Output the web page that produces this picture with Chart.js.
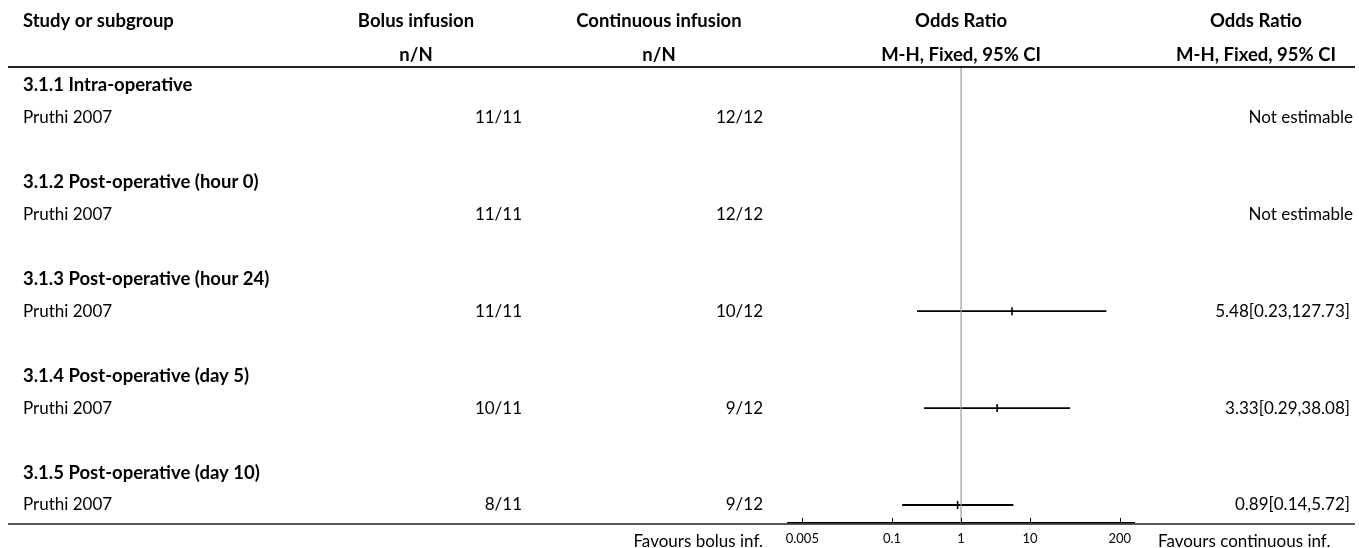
<!DOCTYPE html>
<html>
<head>
<meta charset="utf-8">
<script src="https://cdn.jsdelivr.net/npm/chart.js@4/dist/chart.umd.min.js"></script>
<style>
  html, body { margin: 0; padding: 0; background: #fff; }
  #wrap { position: relative; width: 1359px; height: 548px; }
</style>
</head>
<body>
<div id="wrap"><canvas id="forest" width="1359" height="548"></canvas></div>
<script>
// forest plot data
const groups = ['3.1.1 Intra-operative', '3.1.2 Post-operative (hour 0)', '3.1.3 Post-operative (hour 24)', '3.1.4 Post-operative (day 5)', '3.1.5 Post-operative (day 10)'];
const studies = ['Pruthi 2007', 'Pruthi 2007', 'Pruthi 2007', 'Pruthi 2007', 'Pruthi 2007'];
const bolusEvents = ['11/11', '11/11', '11/11', '10/11', '8/11'];
const contEvents = ['12/12', '12/12', '10/12', '9/12', '9/12'];
const orEst = [null, null, 5.48, 3.33, 0.89];
const orLow = [null, null, 0.23, 0.29, 0.14];
const orHigh = [null, null, 127.73, 38.08, 5.72];
const xTicks = [0.005, 0.1, 1, 10, 200];
const favourLeft = 'Favours bolus inf.';
const favourRight = 'Favours continuous inf.';

const FONT = 'Lato, "Open Sans", sans-serif';
const BOLD = 'bold 18.5px ' + FONT;
const NORM = '17px ' + FONT;
const ROWS = 14;

// row index for each group header and its study line
const groupRow = groups.map((g, i) => i * 3);
const studyRow = groups.map((g, i) => i * 3 + 1);

const ciSets = [];
const estPts = [];
orEst.forEach((v, i) => {
  if (v == null) return;
  ciSets.push({
    type: 'line',
    data: [{ x: orLow[i], y: studyRow[i] }, { x: orHigh[i], y: studyRow[i] }],
    borderColor: '#000',
    borderWidth: 1.8,
    pointRadius: 0
  });
  estPts.push({ x: v, y: studyRow[i] });
});

const yMin = -0.557, yMax = ROWS - 1 + 0.557;

const tablePlugin = {
  id: 'tableText',
  afterDatasetsDraw(chart) {
    const ctx = chart.ctx;
    const xs = chart.scales.x;
    const ys = chart.scales.y;
    const ca = chart.chartArea;
    ctx.save();
    ctx.fillStyle = '#000';
    ctx.textBaseline = 'middle';

    // header
    const h1 = ca.top - 46, h2 = ca.top - 12;
    ctx.font = BOLD;
    ctx.textAlign = 'left';
    ctx.fillText('Study or subgroup', 23, h1);
    ctx.textAlign = 'center';
    ctx.fillText('Bolus infusion', 416, h1);
    ctx.fillText('n/N', 416, h2);
    ctx.fillText('Continuous infusion', 659, h1);
    ctx.fillText('n/N', 659, h2);
    ctx.fillText('Odds Ratio', xs.getPixelForValue(1), h1);
    ctx.fillText('M-H, Fixed, 95% CI', xs.getPixelForValue(1), h2);
    ctx.fillText('Odds Ratio', 1256, h1);
    ctx.fillText('M-H, Fixed, 95% CI', 1256, h2);

    // lines
    ctx.strokeStyle = '#222';
    ctx.lineWidth = 2;
    ctx.beginPath();
    ctx.moveTo(8, ca.top); ctx.lineTo(1355, ca.top);
    ctx.stroke();
    ctx.lineWidth = 1.5;
    ctx.beginPath();
    ctx.moveTo(8, ca.bottom + 1); ctx.lineTo(1355, ca.bottom + 1);
    ctx.stroke();

    // axis ticks pointing up
    ctx.strokeStyle = '#000';
    ctx.lineWidth = 1;
    xTicks.forEach(t => {
      const px = Math.round(xs.getPixelForValue(t)) + 0.5;
      ctx.beginPath();
      ctx.moveTo(px, ca.bottom);
      ctx.lineTo(px, ca.bottom - 5);
      ctx.stroke();
    });

    // rows
    groups.forEach((g, i) => {
      const gy = ys.getPixelForValue(groupRow[i]);
      const sy = ys.getPixelForValue(studyRow[i]);
      ctx.font = BOLD;
      ctx.textAlign = 'left';
      ctx.fillText(g, 23, gy);
      ctx.font = NORM;
      ctx.fillText(studies[i], 23, sy);
      ctx.textAlign = 'right';
      ctx.fillText(bolusEvents[i], 522, sy);
      ctx.fillText(contEvents[i], 763, sy);
      const txt = orEst[i] == null ? 'Not estimable'
        : orEst[i].toFixed(2) + '[' + orLow[i].toFixed(2) + ',' + orHigh[i].toFixed(2) + ']';
      ctx.fillText(txt, orEst[i] == null ? 1353 : 1350, sy);
    });

    // favours labels
    const fy = ca.bottom + 19;
    ctx.font = NORM;
    ctx.textAlign = 'right';
    ctx.fillText(favourLeft, 763, fy);
    ctx.textAlign = 'left';
    ctx.fillText(favourRight, 1158, fy);
    ctx.restore();
  }
};

new Chart(document.getElementById('forest'), {
  type: 'scatter',
  data: {
    datasets: [
      {
        type: 'line',
        data: [{ x: 1, y: yMin }, { x: 1, y: yMax }],
        borderColor: '#999',
        borderWidth: 1.2,
        pointRadius: 0
      },
      ...ciSets,
      {
        data: estPts,
        pointStyle: 'line',
        rotation: 90,
        radius: 4,
        borderColor: '#000',
        borderWidth: 1.6
      }
    ]
  },
  options: {
    responsive: false,
    animation: false,
    devicePixelRatio: 1,
    layout: { padding: { left: 788, right: 225, top: 67, bottom: 0 } },
    plugins: { legend: { display: false }, tooltip: { enabled: false } },
    scales: {
      x: {
        type: 'logarithmic',
        min: 0.0031,
        max: 321,
        afterBuildTicks: s => { s.ticks = xTicks.map(v => ({ value: v })); },
        afterFit: s => { s.height = 25; },
        grid: { display: false },
        border: { display: true, color: '#000', width: 1.5 },
        ticks: {
          color: '#000',
          padding: 0,
          maxRotation: 0,
          autoSkip: false,
          font: { family: FONT, size: 13 },
          callback: v => String(v)
        }
      },
      y: {
        type: 'linear',
        reverse: true,
        min: yMin,
        max: yMax,
        display: false
      }
    }
  },
  plugins: [tablePlugin]
});
</script>
</body>
</html>
